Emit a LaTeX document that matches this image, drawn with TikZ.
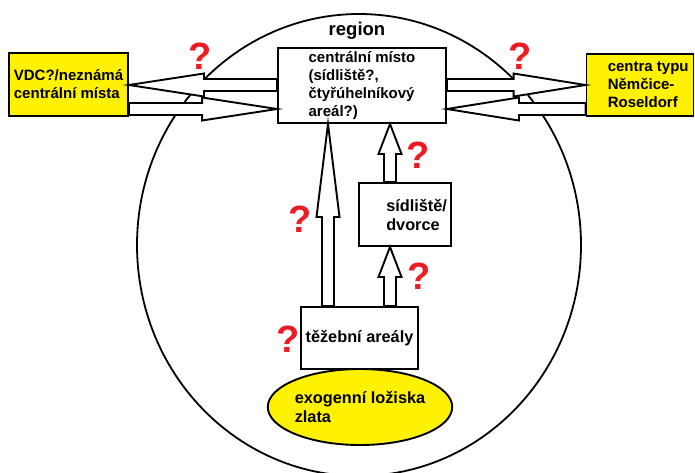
\documentclass[tikz,border=0pt]{standalone}
\usepackage{fontspec}
\setmainfont{Liberation Sans}
\usetikzlibrary{calc,shapes.geometric}

\definecolor{zluta}{RGB}{255,242,0}
\definecolor{otaznik}{RGB}{235,28,36}

\tikzset{
  box/.style={draw, line width=1.9pt, fill=white, inner sep=0pt},
  txt/.style={font=\bfseries\fontsize{15}{18}\selectfont, align=left},
  txtb/.style={font=\bfseries\fontsize{16.3}{19}\selectfont, align=left},
  blockarr/.style={draw, line width=1.9pt, fill=white},
  qmark/.style={text=otaznik, font=\bfseries\fontsize{38}{38}\selectfont, inner sep=0pt},
}

\newcommand{\blockarrow}[3]{%
  \coordinate (bs) at (#1);
  \coordinate (bt) at (#2);
  \coordinate (bb) at ($(bt)!#3!(bs)$);
  \draw[blockarr] ($(bs)!6pt!90:(bt)$) -- ($(bb)!6pt!90:(bt)$) -- ($(bb)!11.5pt!90:(bt)$) -- (bt)
    -- ($(bb)!11.5pt!-90:(bt)$) -- ($(bb)!6pt!-90:(bt)$) -- ($(bs)!6pt!-90:(bt)$) -- cycle;
}

\begin{document}
\begin{tikzpicture}[x=1pt, y=-1pt]
\useasboundingbox (0,0) rectangle (695,472);

\node[draw, ellipse, line width=1.8pt, minimum width=444pt, minimum height=462pt, inner sep=0pt] (oblast) at (359,245) {};
\node[font=\bfseries\fontsize{18.5}{22}\selectfont] (region) at (357,31) {region};

\node[box, fill=zluta, minimum width=119pt, minimum height=63pt, txt] (vdc) at (68.5,84.5) {VDC?/neznámá\\centrální místa};
\node[box, minimum width=168pt, minimum height=75pt, txt] (mid) at (362,85.5) {centrální místo\\(sídliště?,\\čtyřúhelníkový\\areál?)};
\node[box, fill=zluta, minimum width=107pt, minimum height=62pt] (nem) at (640,85) {};
\node[txt, anchor=west, inner sep=0pt] (nemtext) at ([xshift=22pt]nem.west) {centra typu\\Němčice-\\Roseldorf};

\node[box, minimum width=92pt, minimum height=63pt] (sid) at (405,214.5) {};
\node[txtb, anchor=west, inner sep=0pt] (sidtext) at ([xshift=28pt]sid.west) {sídliště/\\dvorce};
\node[box, minimum width=117pt, minimum height=62pt, txtb] (tez) at (359.5,338) {těžební areály};
\node[box, ellipse, fill=zluta, minimum width=177pt, minimum height=76pt, txtb] (zlato) at (360,407) {exogenní ložiska\\zlata};

\blockarrow{mid.west |- 0,85}{vdc.east |- 0,85}{75pt}
\blockarrow{vdc.east |- 0,109}{mid.west |- 0,109}{75pt}
\blockarrow{mid.east |- 0,85}{nem.west |- 0,85}{72pt}
\blockarrow{nem.west |- 0,109}{mid.east |- 0,109}{72pt}
\blockarrow{tez.north -| 328,0}{mid.south -| 328,0}{93pt}
\blockarrow{tez.north -| 390,0}{sid.south -| 390,0}{30pt}
\blockarrow{sid.north -| 390,0}{mid.south -| 390,0}{30pt}

\node[qmark] (q1) at (200,56) {?};
\node[qmark] (q2) at (520,56) {?};
\node[qmark] (q3) at (418,155) {?};
\node[qmark] (q4) at (300,219) {?};
\node[qmark] (q5) at (419,276) {?};
\node[qmark] (q6) at (288,339) {?};

\end{tikzpicture}
\end{document}
